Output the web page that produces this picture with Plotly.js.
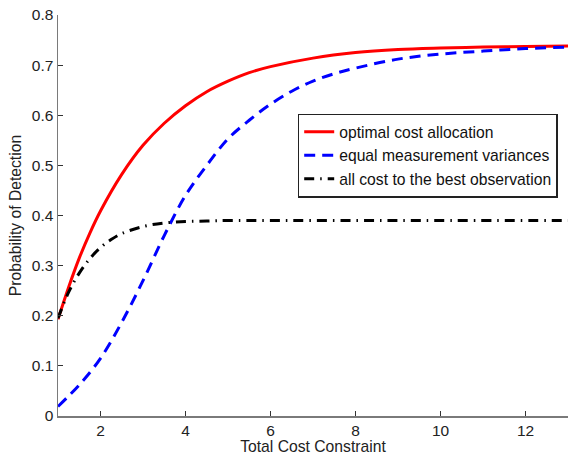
<!DOCTYPE html>
<html>
<head>
<meta charset="utf-8">
<script src="https://cdn.plot.ly/plotly-3.0.1.min.js"></script>
<style>html,body{margin:0;padding:0;background:#fff;}#chart{width:569px;height:455px;}</style>
</head>
<body>
<div id="chart"></div>
<script>
// Total cost constraint (x) and probability of detection (y) for each strategy
var xOptimal = [1, 1.25, 1.5, 1.75, 2, 2.5, 3, 3.5, 4, 4.5, 5, 5.5, 6, 7, 8, 9, 10, 11, 12, 13];
var yOptimal = [0.193, 0.257, 0.315, 0.365, 0.409, 0.482, 0.540, 0.584, 0.619, 0.647, 0.668, 0.685, 0.697, 0.714, 0.725, 0.731, 0.734, 0.736, 0.737, 0.738];

var xEqual = [1, 1.5, 2, 2.5, 3, 3.5, 4, 4.5, 5, 5.5, 6, 6.5, 7, 7.5, 8, 9, 10, 11, 12, 13];
var yEqual = [0.019, 0.062, 0.115, 0.187, 0.270, 0.360, 0.440, 0.500, 0.553, 0.590, 0.622, 0.648, 0.668, 0.683, 0.694, 0.712, 0.722, 0.728, 0.733, 0.736];

var xBest = [1, 1.25, 1.5, 1.75, 2, 2.25, 2.5, 3, 3.5, 4, 4.5, 5, 6, 8, 10, 13];
var yBest = [0.195, 0.247, 0.285, 0.314, 0.336, 0.352, 0.364, 0.378, 0.385, 0.388, 0.389, 0.390, 0.390, 0.390, 0.390, 0.390];

var seriesNames = ["optimal cost allocation", "equal measurement variances", "all cost to the best observation"];
var xTickVals = [2, 4, 6, 8, 10, 12];
var yTickVals = [0, 0.1, 0.2, 0.3, 0.4, 0.5, 0.6, 0.7, 0.8];

var FONT = "Liberation Sans, Arial, Helvetica, sans-serif";

var traces = [
  {x: xOptimal, y: yOptimal, name: seriesNames[0], type: "scatter", mode: "lines",
   line: {color: "#ff0000", width: 3, shape: "spline"}},
  {x: xEqual, y: yEqual, name: seriesNames[1], type: "scatter", mode: "lines",
   line: {color: "#0000ff", width: 3, dash: "11px,7px", shape: "spline"}},
  {x: xBest, y: yBest, name: seriesNames[2], type: "scatter", mode: "lines",
   line: {color: "#000000", width: 3, dash: "10px,6px,1.5px,6px", shape: "spline"}}
];

var axisCommon = {
  showgrid: false, zeroline: false, showline: true, linecolor: "#7a7a7a", linewidth: 1.5,
  ticks: "inside", ticklen: 5, tickwidth: 1, tickcolor: "#333",
  tickfont: {family: FONT, size: 15.5, color: "#222"}, mirror: false
};

var layout = {
  width: 569, height: 455,
  margin: {l: 58, r: 1, t: 15, b: 39, pad: 0},
  paper_bgcolor: "#fff", plot_bgcolor: "#fff",
  font: {family: FONT, size: 15.5, color: "#222"},
  showlegend: true,
  legend: {
    x: 0.47, y: 0.754, xanchor: "left", yanchor: "top",
    bgcolor: "#fff", bordercolor: "#222", borderwidth: 1.5,
    font: {family: FONT, size: 15.7, color: "#111"}
  },
  xaxis: Object.assign({}, axisCommon, {
    range: [1, 13], tickmode: "array", tickvals: xTickVals,
    title: {text: "Total Cost Constraint", font: {family: FONT, size: 15.7, color: "#222"}, standoff: 3}
  }),
  yaxis: Object.assign({}, axisCommon, {
    range: [0, 0.8], tickmode: "array", tickvals: yTickVals,
    title: {text: "Probability of Detection", font: {family: FONT, size: 15.7, color: "#222"}, standoff: 6}
  })
};

Plotly.newPlot("chart", traces, layout, {displayModeBar: false, staticPlot: true});
</script>
</body>
</html>
